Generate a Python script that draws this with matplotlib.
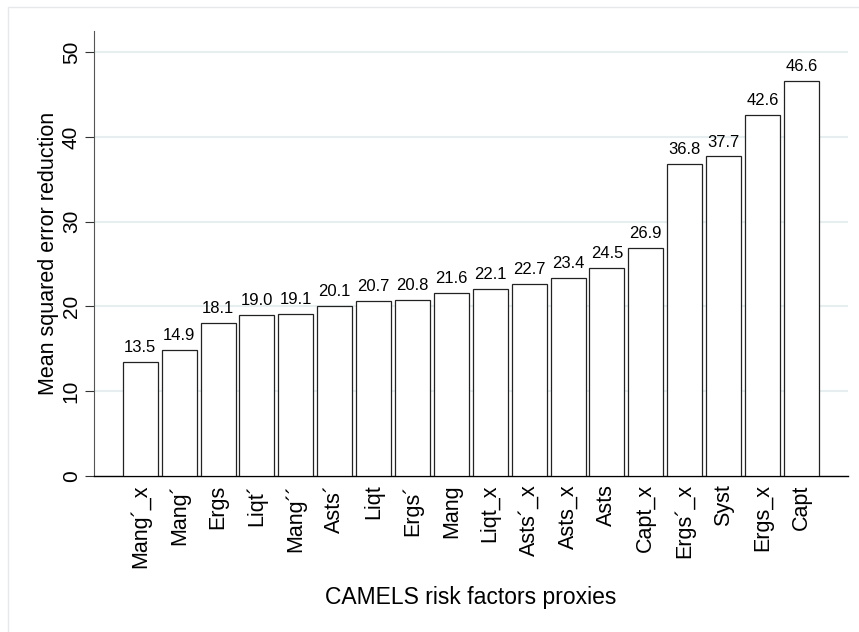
import matplotlib
matplotlib.use('Agg')
import matplotlib.pyplot as plt
from matplotlib.patches import Rectangle

plt.rcParams['font.family'] = ['Liberation Sans', 'DejaVu Sans']

proxies = ['Mang´_x', 'Mang´', 'Ergs', 'Liqt´', 'Mang´´', 'Asts´', 'Liqt', 'Ergs´', 'Mang',
           'Liqt_x', 'Asts´_x', 'Asts_x', 'Asts', 'Capt_x', 'Ergs´_x', 'Syst', 'Ergs_x', 'Capt']
mse_reduction = [13.5, 14.9, 18.1, 19.0, 19.1, 20.1, 20.7, 20.8, 21.6,
                 22.1, 22.7, 23.4, 24.5, 26.9, 36.8, 37.7, 42.6, 46.6]
yticks = [0, 10, 20, 30, 40, 50]

fig = plt.figure(figsize=(8.59, 6.32), dpi=100)
# light outer frame like the stata graph region
fig.patches.append(Rectangle((8 / 859, -0.1), 1.1, 1.1 - 7 / 632, transform=fig.transFigure,
                             fill=False, edgecolor='#e6e9ea', linewidth=1.0))

ax = fig.add_axes([94 / 859, 1 - 476 / 632, (848 - 94) / 859, (476 - 31) / 632])

x = list(range(len(proxies)))
bars = ax.bar(x, mse_reduction, width=0.9, color='white', edgecolor='#222222', linewidth=0.9, zorder=3)
for b, v in zip(bars, mse_reduction):
    ax.annotate('%.1f' % v, (b.get_x() + b.get_width() / 2, v), xytext=(0, 5),
                textcoords='offset points', ha='center', va='bottom', fontsize=12)

ax.set_xlim(-1.19, 17 + 1.2)
ax.set_ylim(0, 52.5)
ax.set_yticks(yticks)
ax.set_yticklabels([str(t) for t in yticks], rotation=90, va='center', fontsize=15)
ax.tick_params(axis='y', length=6.5, width=0.8, pad=3, color='#333333')
ax.set_xticks(x)
ax.set_xticklabels(proxies, rotation=90, fontsize=15.5)
ax.tick_params(axis='x', length=0, pad=6)

for t in yticks[1:]:
    ax.axhline(t, color='#e6eef0', linewidth=1.5, zorder=1)

for s in ['top', 'right']:
    ax.spines[s].set_visible(False)
ax.spines['left'].set_color('#555555')
ax.spines['bottom'].set_color('black')
ax.spines['bottom'].set_linewidth(1.0)

ax.set_ylabel('Mean squared error reduction', fontsize=15.5, labelpad=2)
ax.set_xlabel('CAMELS risk factors proxies', fontsize=16.5, labelpad=13)

fig.savefig('out.png', dpi=100)
